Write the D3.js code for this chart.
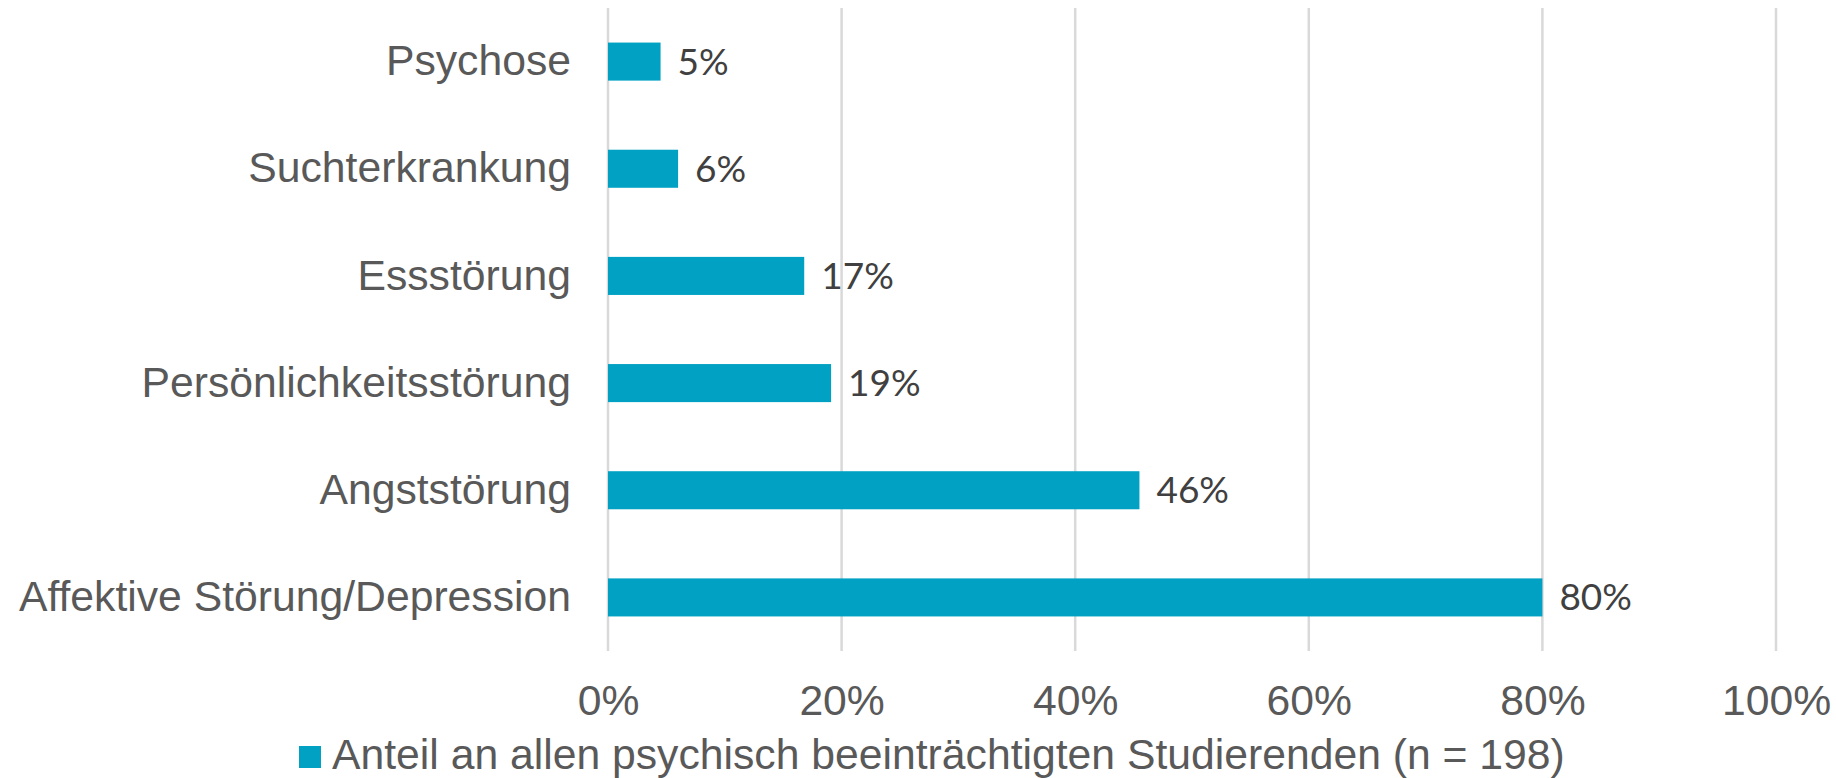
<!DOCTYPE html>
<html>
<head>
<meta charset="utf-8">
<script src="https://cdn.jsdelivr.net/npm/d3@7"></script>
<style>
  body { margin: 0; background: #fff; }
  svg { display: block; }
</style>
</head>
<body>
<div id="chart"></div>
<script>
  var categories = ["Psychose", "Suchterkrankung", "Essstörung", "Persönlichkeitsstörung", "Angststörung", "Affektive Störung/Depression"];
  var shares = [4.5, 6.0, 16.8, 19.1, 45.5, 80.0];
  var tickValues = [0, 20, 40, 60, 80, 100];
  var seriesName = "Anteil an allen psychisch beeinträchtigten Studierenden (n = 198)";

  var width = 1836, height = 778;
  var margin = { top: 8, bottom: 127, left: 608, right: 60 };
  var barColor = "#00a1c2";
  var textColor = "#595959";
  var labelFont = "'Liberation Sans', Arial, sans-serif";

  var data = categories.map(function(c, i) { return { cat: c, value: shares[i] }; });

  var svg = d3.select("#chart")
    .append("svg")
    .attr("width", width)
    .attr("height", height);

  var xScale = d3.scaleLinear()
    .domain([0, 100])
    .range([margin.left, width - margin.right]);

  var yScale = d3.scaleBand()
    .domain(categories)
    .range([margin.top, height - margin.bottom])
    .paddingInner(0.645)
    .paddingOuter(0.3225);

  // gridlines
  svg.append("g")
    .selectAll("line")
    .data(tickValues)
    .enter()
    .append("line")
    .attr("x1", d => xScale(d))
    .attr("x2", d => xScale(d))
    .attr("y1", margin.top)
    .attr("y2", height - margin.bottom)
    .attr("stroke", "#d9d9d9")
    .attr("stroke-width", 2.5);

  // x axis labels
  var axisx = d3.axisBottom(xScale)
    .tickValues(tickValues)
    .tickSize(0)
    .tickPadding(0)
    .tickFormat(d => d + "%");

  var gx = svg.append("g")
    .attr("transform", "translate(0," + 700 + ")")
    .call(axisx);
  gx.select(".domain").remove();
  gx.selectAll("text")
    .attr("dy", "0.35em")
    .attr("y", 0)
    .attr("fill", textColor)
    .attr("font-family", labelFont)
    .attr("font-size", "42.7px");

  // y axis labels
  var axisy = d3.axisLeft(yScale).tickSize(0).tickPadding(37);
  var gy = svg.append("g")
    .attr("transform", "translate(" + margin.left + ",0)")
    .call(axisy);
  gy.select(".domain").remove();
  gy.selectAll("text")
    .attr("fill", textColor)
    .attr("font-family", labelFont)
    .attr("font-size", "42.7px");

  // bars
  svg.append("g")
    .selectAll("rect")
    .data(data)
    .enter()
    .append("rect")
    .attr("x", xScale(0))
    .attr("y", d => yScale(d.cat))
    .attr("width", d => xScale(d.value) - xScale(0))
    .attr("height", yScale.bandwidth())
    .attr("fill", barColor);

  // value labels
  svg.append("g")
    .selectAll("text")
    .data(data)
    .enter()
    .append("text")
    .attr("x", d => xScale(d.value) + 17)
    .attr("y", d => yScale(d.cat) + yScale.bandwidth() / 2)
    .attr("dy", "0.35em")
    .attr("fill", "#404040")
    .attr("font-family", "Lato, 'Open Sans', sans-serif")
    .attr("font-size", "37px")
    .text(d => Math.round(d.value) + "%");

  // legend
  var legend = svg.append("g").attr("transform", "translate(299,746)");
  legend.append("rect")
    .attr("width", 22)
    .attr("height", 22)
    .attr("fill", barColor);
  legend.append("text")
    .attr("x", 33)
    .attr("y", 8)
    .attr("dy", "0.35em")
    .attr("fill", textColor)
    .attr("font-family", labelFont)
    .attr("font-size", "42.7px")
    .text(seriesName);
</script>
</body>
</html>
